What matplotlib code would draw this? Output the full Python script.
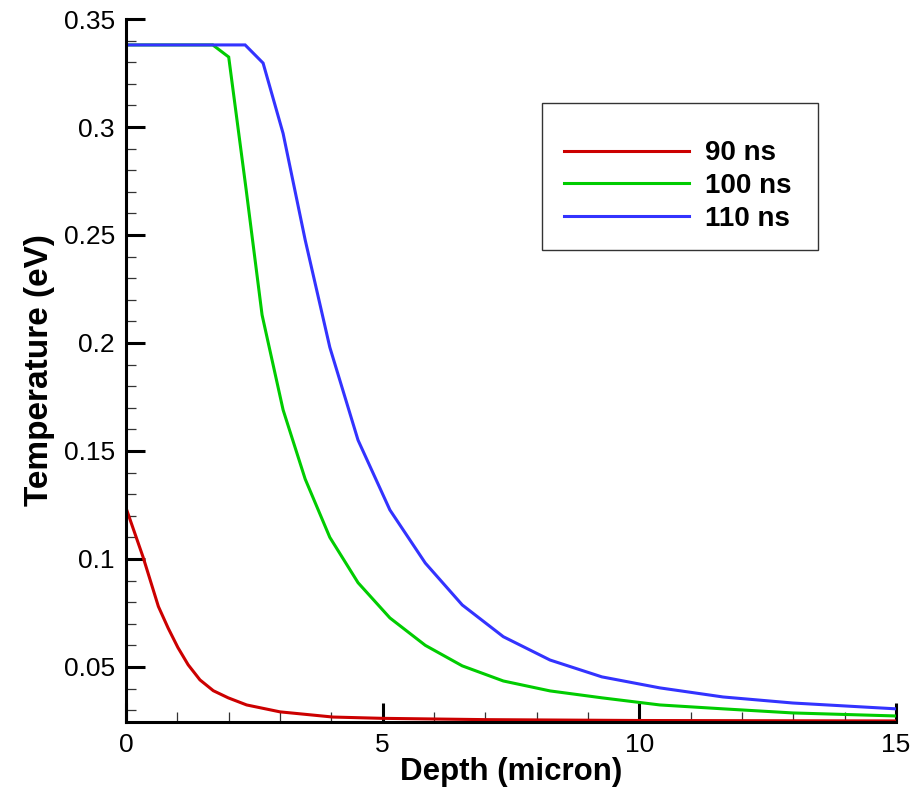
import numpy as np
import matplotlib as mpl
mpl.use('Agg')
import matplotlib.pyplot as plt
from matplotlib.patches import Rectangle
from matplotlib.ticker import MultipleLocator

mpl.rcParams['font.family'] = ['Liberation Sans', 'DejaVu Sans']

# depth (micron) vs temperature (eV)
depth_90 = [0, 0.33, 0.63, 0.82, 1.01, 1.21, 1.44, 1.70, 1.99, 2.35, 3.0, 4.03, 5.0, 7.0, 10.0, 15.0]
temp_90 = [0.1236, 0.101, 0.078, 0.068, 0.059, 0.051, 0.044, 0.039, 0.0357, 0.0324,
           0.0292, 0.0268, 0.0262, 0.0256, 0.0252, 0.0250]

depth_100 = [0, 1.69, 2.0, 2.34, 2.65, 3.06, 3.49, 3.97, 4.52, 5.14, 5.83, 6.55, 7.35,
             8.26, 9.27, 10.4, 11.63, 12.99, 15.0]
temp_100 = [0.338, 0.338, 0.3324, 0.271, 0.213, 0.169, 0.137, 0.110, 0.089, 0.0727, 0.060,
            0.0505, 0.0435, 0.0389, 0.0357, 0.0324, 0.0306, 0.0287, 0.0273]

depth_110 = [0, 2.32, 2.67, 3.06, 3.49, 3.97, 4.52, 5.14, 5.83, 6.55, 7.35, 8.26, 9.27,
             10.4, 11.63, 12.99, 15.0]
temp_110 = [0.338, 0.338, 0.3296, 0.297, 0.2477, 0.198, 0.155, 0.1227, 0.0981, 0.0787,
            0.064, 0.0532, 0.0454, 0.0403, 0.0361, 0.0333, 0.0306]

labels = ["90 ns", "100 ns", "110 ns"]
colors = ["#cc0000", "#00cc00", "#3333ff"]

yticks = [0.05, 0.1, 0.15, 0.2, 0.25, 0.3, 0.35]
ytick_labels = ["0.05", "0.1", "0.15", "0.2", "0.25", "0.3", "0.35"]
xticks = [0, 5, 10, 15]


def plot_temps(save_path):
    fig = plt.figure(figsize=(9.14, 7.89), dpi=100)
    ax = fig.add_axes([0.1379, 0.0849, 0.8424, 0.891])

    series = [(depth_90, temp_90), (depth_100, temp_100), (depth_110, temp_110)]
    handles = []
    for (xs, ys), lab, c in zip(series, labels, colors):
        h, = ax.plot(xs, ys, color=c, lw=2.2, label=lab, solid_joinstyle='miter')
        handles.append(h)

    ax.set_xlim(0, 15)
    ax.set_ylim(0.0245, 0.35)
    ax.set_xticks(xticks)
    ax.set_xticklabels([str(x) for x in xticks])
    ax.set_yticks(yticks)
    ax.set_yticklabels(ytick_labels)
    ax.xaxis.set_minor_locator(MultipleLocator(1))
    ax.yaxis.set_minor_locator(MultipleLocator(0.01))

    for s in ['top', 'right']:
        ax.spines[s].set_visible(False)
    for s in ['left', 'bottom']:
        ax.spines[s].set_linewidth(2.2)

    ax.tick_params(which='major', direction='in', length=14, width=2.2, labelsize=19, pad=8)
    ax.tick_params(which='minor', direction='in', length=7, width=0.9, color='#333333')

    ax.set_xlabel("Depth (micron)", fontsize=22.5, fontweight='bold', labelpad=0)
    ax.set_ylabel("Temperature (eV)", fontsize=24, fontweight='bold', labelpad=6)

    ax.add_patch(Rectangle((0.540, 0.671), 0.359, 0.2095, transform=ax.transAxes,
                           fill=False, edgecolor='#333333', lw=1.0, zorder=5))
    leg = ax.legend(handles=handles, loc='center left', bbox_to_anchor=(0.569, 0.7624),
                    frameon=False, borderpad=0, borderaxespad=0, handlelength=4.5,
                    handletextpad=0.57, labelspacing=0.24,
                    prop={'weight': 'bold', 'size': 20})

    plt.savefig(save_path, dpi=100)
    plt.close(fig)


if __name__ == "__main__":
    plot_temps("out.png")
